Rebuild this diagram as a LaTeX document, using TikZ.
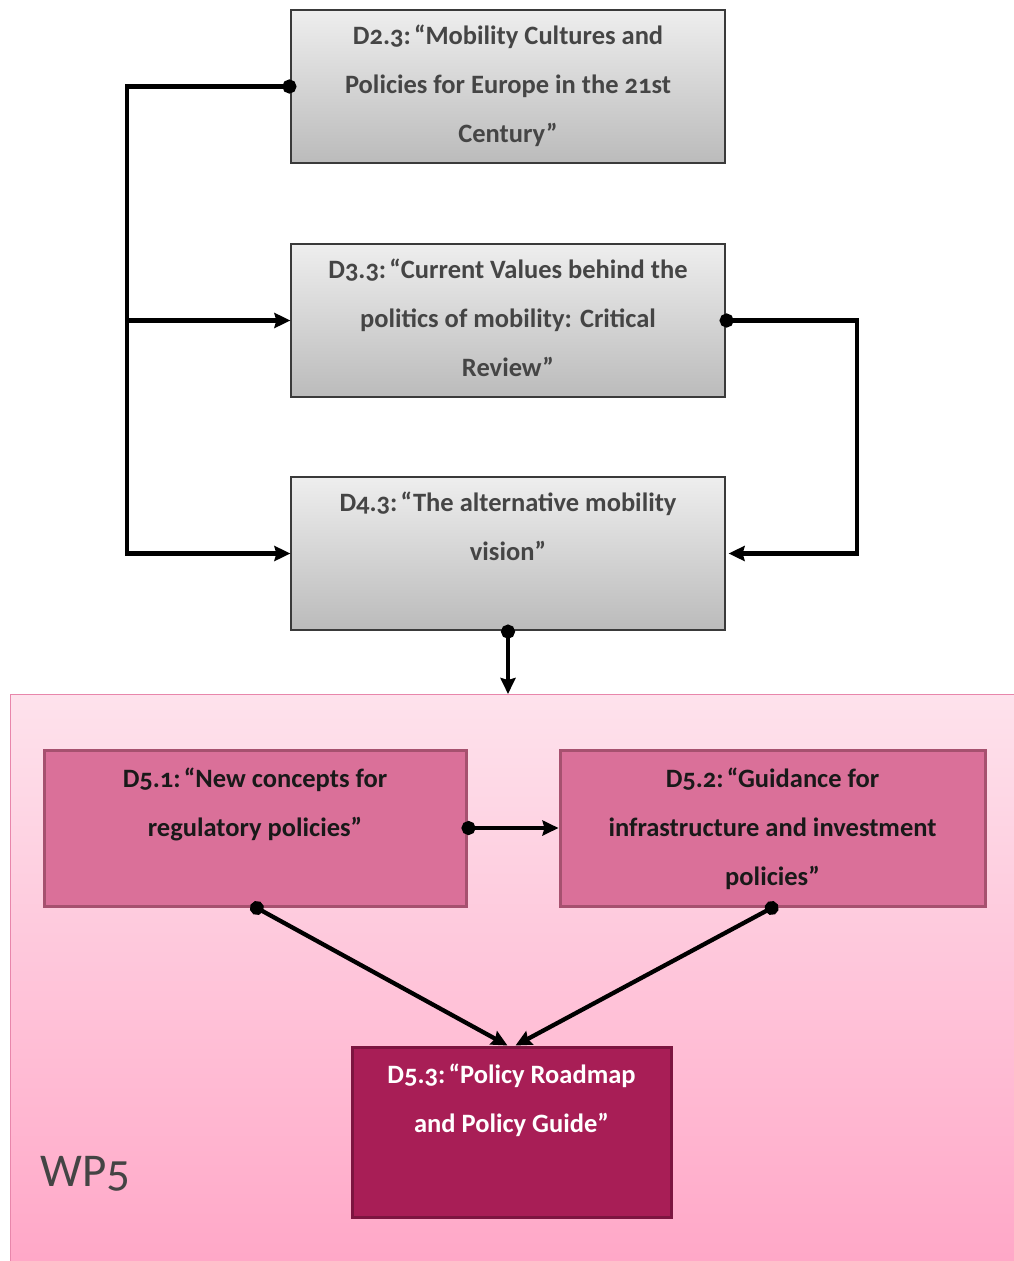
\documentclass[tikz,border=0pt]{standalone}
\usepackage{fontspec}
\setmainfont{Carlito}[Numbers=OldStyle]
\usetikzlibrary{arrows.meta}
\definecolor{graytop}{HTML}{EEEEEE}
\definecolor{graybot}{HTML}{BBBBBB}
\definecolor{grayline}{HTML}{3A3A3A}
\definecolor{graytext}{HTML}{454545}
\definecolor{wptop}{HTML}{FEE2EC}
\definecolor{wpbot}{HTML}{FFA7C7}
\definecolor{wpline}{HTML}{E886AB}
\definecolor{midfill}{HTML}{DA7099}
\definecolor{midline}{HTML}{A6516F}
\definecolor{darkfill}{HTML}{A81E56}
\definecolor{darkline}{HTML}{7C1540}
\definecolor{wptext}{HTML}{444444}
\tikzset{
  graybox/.style={draw=grayline, line width=1.2pt, top color=graytop, bottom color=graybot, shading angle=0, minimum width=434pt, minimum height=153pt, inner sep=0pt},
  midbox/.style={draw=midline, line width=3pt, fill=midfill, minimum height=156pt, inner sep=0pt},
  darkbox/.style={draw=darkline, line width=3pt, fill=darkfill, minimum width=319pt, minimum height=170pt, inner sep=0pt},
  boxtext/.style={anchor=north, align=center, inner sep=0pt, font=\fontsize{26.5}{49}\selectfont\bfseries},
  conn/.style={line width=4.3pt, shorten <=-6pt, {Circle[length=14pt]}-{Stealth[length=16pt,width=15pt,inset=2pt]}},
  plain/.style={line width=4.3pt, -{Stealth[length=16pt,width=15pt,inset=2pt]}},
}
\newcommand{\cs}{:\hspace{0.12em}}
\begin{document}
\begin{tikzpicture}[x=1pt,y=-1pt]
\useasboundingbox (0,0) rectangle (1014,1261);
% WP5 region
\node[draw=wpline, line width=1.2pt, top color=wptop, bottom color=wpbot, minimum width=1010pt, minimum height=572pt, inner sep=0pt, anchor=north west] (wp) at (10,694) {};
\node[anchor=base west, inner sep=0pt, text=wptext, font=\fontsize{47}{47}\selectfont] (wplabel) at (40,1186) {WP5};

% gray boxes
\node[graybox] (b23) at (508,86.5) {};
\node[graybox] (b33) at (508,320.5) {};
\node[graybox] (b43) at (508,553.5) {};
\node[boxtext, text=graytext] (t23) at ([yshift=-15pt]b23.north) {D2.3\cs“Mobility Cultures and\\Policies for Europe in the 21st\\Century”};
\node[boxtext, text=graytext] (t33) at ([yshift=-15pt]b33.north) {D3.3\cs“Current Values behind the\\politics of mobility: Critical\\Review”};
\node[boxtext, text=graytext] (t43) at ([yshift=-15pt]b43.north) {D4.3\cs“The alternative mobility\\vision”};

% WP5 boxes
\node[midbox, minimum width=422pt] (b51) at (255,828) {};
\node[midbox, minimum width=425pt] (b52) at (772.5,828) {};
\node[darkbox] (b53) at (511.5,1132) {};
\node[boxtext, text=black!90] (t51) at ([yshift=-19pt]b51.north) {D5.1\cs“New concepts for\\regulatory policies”};
\node[boxtext, text=black!90] (t52) at ([yshift=-19pt]b52.north) {D5.2\cs“Guidance for\\infrastructure and investment\\policies”};
\node[boxtext, text=white] (t53) at ([yshift=-18pt]b53.north) {D5.3\cs“Policy Roadmap\\and Policy Guide”};

% connectors
\coordinate (lx) at (127,0);
\draw[conn] (b23.west) -- (b23.west -| lx) |- (b43.west);
\draw[plain] (lx |- b33.west) -- (b33.west);
\coordinate (rx) at (857,0);
\draw[conn] (b33.east) -- (b33.east -| rx) |- ([xshift=3pt]b43.east);
\draw[conn] (b43.south) -- (b43.south |- wp.north);
\draw[conn] (b51.east) -- (b52.west);
\draw[conn] ([xshift=1pt]b51.south) -- ([xshift=-4pt]b53.north);
\draw[conn] (b52.south) -- ([xshift=4pt]b53.north);
\end{tikzpicture}
\end{document}
